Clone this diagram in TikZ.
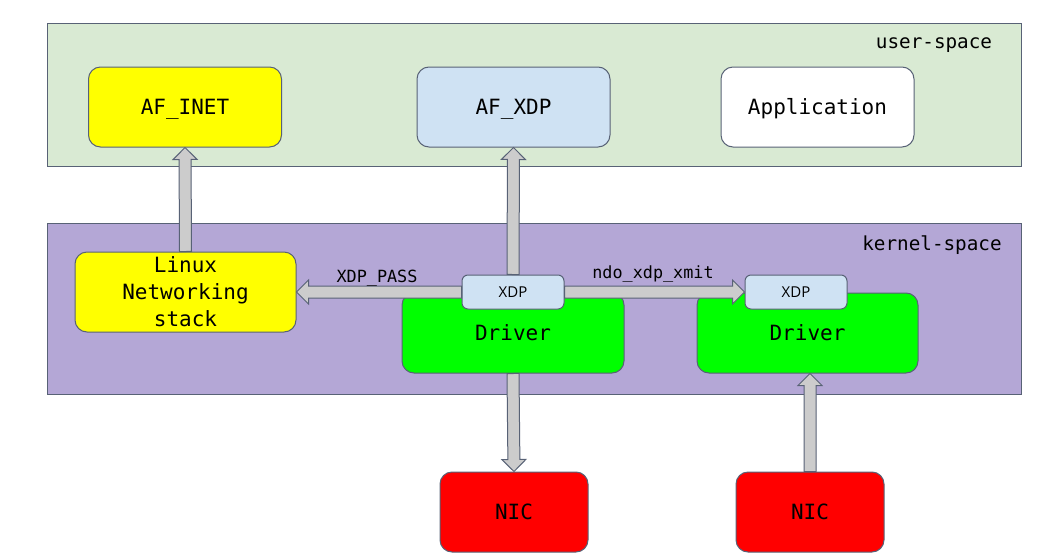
\documentclass[tikz,border=0pt]{standalone}
\usepackage{fontspec}
\setmonofont{DejaVu Sans Mono}
\newfontfamily\xdpfont{Open Sans}
\usetikzlibrary{calc}

\definecolor{userfill}{HTML}{D9EAD3}
\definecolor{kernfill}{HTML}{B4A7D6}
\definecolor{xdpfill}{HTML}{CFE2F3}
\definecolor{stackfill}{HTML}{FFFF00}
\definecolor{drvfill}{HTML}{00FF00}
\definecolor{nicfill}{HTML}{FF0000}
\definecolor{edgegray}{RGB}{88,98,118}
\definecolor{flowfill}{HTML}{CCCCCC}

\newcommand\boxfont{\ttfamily\fontsize{21}{27}\selectfont}
\newcommand\spacefont{\ttfamily\fontsize{19.3}{23}\selectfont}
\newcommand\callfont{\ttfamily\fontsize{16.8}{20}\selectfont}

\tikzset{
  flow/.style={draw=edgegray, fill=flowfill, line width=1pt, line join=miter,
    to path={($(\tikztostart)!6pt!90:(\tikztotarget)$)
      -- ($(\tikztotarget)!12pt!(\tikztostart)!6pt!90:(\tikztotarget)$)
      -- ($(\tikztotarget)!12pt!(\tikztostart)!12pt!90:(\tikztotarget)$)
      -- (\tikztotarget)
      -- ($(\tikztotarget)!12pt!(\tikztostart)!12pt!-90:(\tikztotarget)$)
      -- ($(\tikztotarget)!12pt!(\tikztostart)!6pt!-90:(\tikztotarget)$)
      -- ($(\tikztostart)!6pt!-90:(\tikztotarget)$) -- cycle}},
  oneline/.style={text height=15pt, text depth=0pt}
}

\begin{document}
\begin{tikzpicture}[x=1pt, y=-1pt]

      \useasboundingbox (0,0) rectangle (1039,557);

      % the two spaces
      \begin{scope}[every node/.style={draw=edgegray, line width=1pt, inner sep=0pt, minimum width=974pt}]
        \node[fill=userfill, minimum height=143pt] (user)   at (534,94.5)  {};
        \node[fill=kernfill, minimum height=171pt] (kernel) at (534,308.5) {};
      \end{scope}

      \begin{scope}[every node/.style={font=\spacefont, inner sep=0pt}]
        \node (userlbl)   at (934,45)  {user-space};
        \node (kernellbl) at (932,245) {kernel-space};
      \end{scope}

      \begin{scope}[every node/.style={draw=edgegray, line width=1pt, rounded corners=12pt,
          inner sep=0pt, minimum width=193pt, minimum height=80pt, align=center, font=\boxfont}]
        \node[fill=stackfill, oneline] (afinet) at (185,107)   {AF\_INET};
        \node[fill=xdpfill, oneline]   (afxdp)  at (513.5,107) {AF\_XDP};
        \node[fill=white, oneline]     (app)    at (817.5,107) {Application};
        \node[fill=stackfill, minimum width=221pt] (stack) at (185.5,292) {Linux\\Networking\\stack};
        \node[fill=drvfill, oneline, minimum width=222pt] (drv1) at (513,333)   {Driver};
        \node[fill=drvfill, oneline, minimum width=221pt] (drv2) at (807.5,333) {Driver};
        \node[fill=nicfill, oneline, minimum width=148pt] (nic1) at (514,512)   {NIC};
        \node[fill=nicfill, oneline, minimum width=148pt] (nic2) at (810,512)   {NIC};
      \end{scope}

      \begin{scope}[every node/.style={draw=edgegray, line width=1pt, rounded corners=6pt, fill=xdpfill,
          inner sep=0pt, minimum width=102pt, minimum height=34pt, font=\xdpfont\fontsize{15}{18}\selectfont}]
        \node (xdp1) at (513,292) {XDP};
        \node (xdp2) at (796,292) {XDP};
      \end{scope}

      % packet paths
      \draw[flow] (stack.north) to (afinet.south);
      \draw[flow] (xdp1.north)  to (afxdp.south);
      \draw[flow] (xdp1.west)   to (stack.east);
      \draw[flow] (xdp1.east)   to (xdp2.west);
      \draw[flow] (drv1.south)  to (nic1.north);
      \draw[flow] (nic2.north)  to (nic2.north |- drv2.south);

      \begin{scope}[every node/.style={font=\callfont, inner sep=0pt}]
        \node (passlbl) at (377,278) {XDP\_PASS};
        \node (xmitlbl) at (653,274) {ndo\_xdp\_xmit};
      \end{scope}

    \end{tikzpicture}
\end{document}
